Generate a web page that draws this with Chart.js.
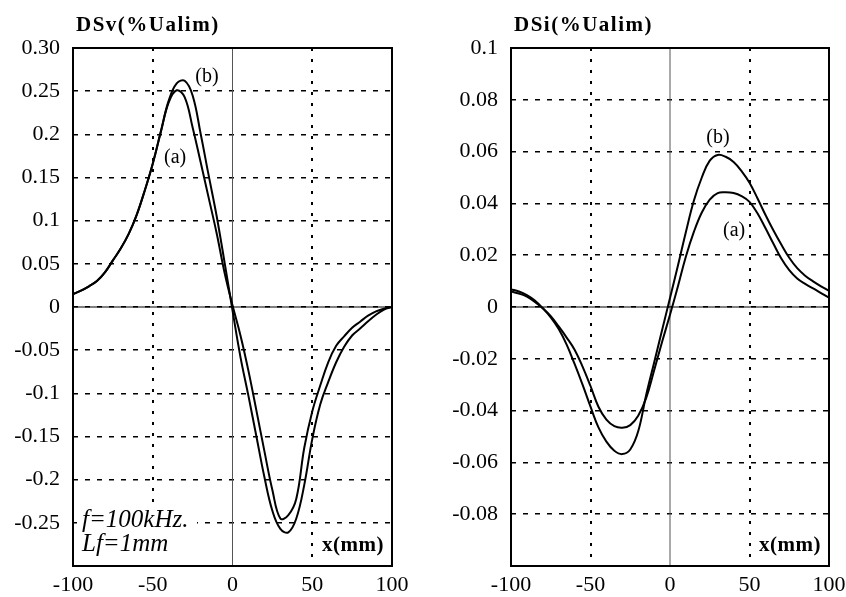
<!DOCTYPE html>
<html>
<head>
<meta charset="utf-8">
<script src="https://cdn.jsdelivr.net/npm/chart.js@4.4.1/dist/chart.umd.min.js"></script>
<style>
  html, body { margin: 0; padding: 0; background: #fff; }
  #wrap { position: relative; width: 846px; height: 597px; }
  .panel { position: absolute; top: 0; height: 597px; }
  #left { left: 0; width: 420px; }
  #right { left: 420px; width: 426px; }
</style>
</head>
<body>
<div id="wrap">
  <div class="panel" id="left"><canvas id="dsv"></canvas></div>
  <div class="panel" id="right"><canvas id="dsi"></canvas></div>
</div>
<script>
// x positions (mm), shared by every curve
const xValues = [-100, -95, -90, -85, -80, -75, -70, -65, -60, -55, -50, -45, -40, -35, -30, -25, -20, -15, -10, -5,
  0, 5, 10, 15, 20, 25, 30, 35, 40, 45, 50, 55, 60, 65, 70, 75, 80, 85, 90, 95, 100];

// DSv, curves (a) and (b)
const dsvA = [0.015, 0.019, 0.024, 0.030, 0.040, 0.054, 0.068, 0.085, 0.107, 0.135, 0.166, 0.202, 0.237, 0.251, 0.243, 0.208, 0.168, 0.127, 0.086, 0.040,
  0.002, -0.033, -0.074, -0.120, -0.167, -0.212, -0.245, -0.241, -0.222, -0.163, -0.121, -0.091, -0.064, -0.045, -0.034, -0.024, -0.017, -0.010, -0.005, -0.002, 0.000];
const dsvB = [0.015, 0.019, 0.024, 0.030, 0.040, 0.054, 0.068, 0.085, 0.107, 0.135, 0.166, 0.203, 0.239, 0.259, 0.262, 0.245, 0.201, 0.153, 0.106, 0.052,
  -0.004, -0.058, -0.103, -0.150, -0.197, -0.236, -0.257, -0.261, -0.245, -0.206, -0.153, -0.113, -0.087, -0.064, -0.046, -0.033, -0.025, -0.0165, -0.009, -0.003, 0.000];

// DSi, curves (a) and (b)
const dsiA = [0.0060, 0.0052, 0.0040, 0.0020, -0.0005, -0.0035, -0.0075, -0.0118, -0.0165, -0.0230, -0.0305, -0.0385, -0.0435, -0.0460, -0.0466, -0.0456, -0.0420, -0.0352, -0.0245, -0.0135,
  -0.0030, 0.0080, 0.0195, 0.0290, 0.0365, 0.0415, 0.0440, 0.0443, 0.0440, 0.0428, 0.0406, 0.0362, 0.0305, 0.0245, 0.0187, 0.0142, 0.0110, 0.0089, 0.0072, 0.0054, 0.0036];
const dsiB = [0.0068, 0.0060, 0.0046, 0.0025, -0.0005, -0.0040, -0.0085, -0.0145, -0.0220, -0.0300, -0.0385, -0.0465, -0.0520, -0.0555, -0.0568, -0.0550, -0.0480, -0.0340, -0.0215, -0.0090,
  0.0035, 0.0160, 0.0290, 0.0410, 0.0500, 0.0565, 0.0587, 0.0580, 0.0560, 0.0525, 0.0480, 0.0420, 0.0356, 0.0296, 0.0241, 0.0190, 0.0150, 0.0121, 0.0099, 0.0080, 0.0063];

// ticks
const xTicks = [-100, -50, 0, 50, 100];
const xTickLabels = ["-100", "-50", "0", "50", "100"];
const dsvTicks = [-0.3, -0.25, -0.2, -0.15, -0.1, -0.05, 0, 0.05, 0.1, 0.15, 0.2, 0.25, 0.3];
const dsvTickLabels = ["", "-0.25", "-0.2", "-0.15", "-0.1", "-0.05", "0", "0.05", "0.1", "0.15", "0.2", "0.25", "0.30"];
const dsiTicks = [-0.1, -0.08, -0.06, -0.04, -0.02, 0, 0.02, 0.04, 0.06, 0.08, 0.1];
const dsiTickLabels = ["", "-0.08", "-0.06", "-0.04", "-0.02", "0", "0.02", "0.04", "0.06", "0.08", "0.1"];

const serif = '"Liberation Serif", "Times New Roman", serif';

const toPoints = (ys) => xValues.map((x, i) => ({ x: x, y: ys[i] }));

const curve = (ys) => ({
  data: toPoints(ys),
  borderColor: "#000",
  borderWidth: 2,
  pointRadius: 0,
  fill: false,
  tension: 0.4,
});

const makePanel = (canvasId, seriesA, seriesB, yTicks, yLabels, panel) => {
  const overlay = {
    id: "overlay",
    beforeDatasetsDraw(chart) {
      const { ctx, chartArea, scales } = chart;
      const y0 = scales.y.getPixelForValue(0);
      const x0 = scales.x.getPixelForValue(0);
      ctx.save();
      ctx.lineWidth = 1;
      ctx.strokeStyle = "#000";
      ctx.beginPath();
      ctx.moveTo(chartArea.left, y0);
      ctx.lineTo(chartArea.right, y0);
      ctx.stroke();
      ctx.strokeStyle = "#555";
      ctx.beginPath();
      ctx.moveTo(x0, chartArea.top);
      ctx.lineTo(x0, chartArea.bottom);
      ctx.stroke();

      // notes sit on a white patch over the grid
      if (panel.notes) {
        ctx.font = "italic 25px " + serif;
        ctx.fillStyle = "#fff";
        ctx.fillRect(chartArea.left + 4, chartArea.bottom - 62, 120, 54);
        ctx.fillStyle = "#000";
        ctx.textAlign = "left";
        ctx.textBaseline = "alphabetic";
        panel.notes.forEach((n, i) => {
          ctx.fillText(n, chartArea.left + 9, chartArea.bottom - 39 + i * 24);
        });
      }
      ctx.restore();
    },
    afterDraw(chart) {
      const { ctx, chartArea, scales } = chart;
      ctx.save();
      // frame
      ctx.lineWidth = 2;
      ctx.strokeStyle = "#000";
      ctx.strokeRect(chartArea.left, chartArea.top, chartArea.right - chartArea.left, chartArea.bottom - chartArea.top);

      ctx.fillStyle = "#000";
      ctx.textBaseline = "alphabetic";
      ctx.font = "bold 21px " + serif;
      ctx.textAlign = "left";
      ctx.letterSpacing = "1.5px";
      ctx.fillText(panel.title, chartArea.left + 3, 31);
      ctx.letterSpacing = "0.5px";
      ctx.textAlign = "right";
      ctx.fillText("x(mm)", chartArea.right - 8, chartArea.bottom - 15);
      ctx.letterSpacing = "0px";

      // curve labels
      ctx.font = "20px " + serif;
      ctx.textAlign = "center";
      ctx.textBaseline = "middle";
      panel.marks.forEach((m) => {
        ctx.fillText(m.text, scales.x.getPixelForValue(m.x), scales.y.getPixelForValue(m.y));
      });
      ctx.restore();
    },
  };

  return new Chart(document.getElementById(canvasId).getContext("2d"), {
    type: "line",
    data: {
      datasets: [curve(seriesA), curve(seriesB)],
    },
    options: {
      responsive: true,
      maintainAspectRatio: false,
      animation: false,
      layout: {
        padding: { top: 48, right: panel.padRight, left: 0, bottom: 0 },
      },
      plugins: {
        legend: { display: false },
        tooltip: { enabled: false },
      },
      scales: {
        x: {
          type: "linear",
          min: -100,
          max: 100,
          afterBuildTicks: (axis) => {
            axis.ticks = xTicks.map((v) => ({ value: v }));
          },
          afterFit: (axis) => {
            axis.height = 31;
            axis.paddingLeft = 0;
            axis.paddingRight = 0;
          },
          ticks: {
            color: "#000",
            padding: 6,
            maxRotation: 0,
            font: { family: serif, size: 22 },
            callback: (value, index) => xTickLabels[index],
          },
          grid: {
            drawTicks: false,
            lineWidth: 2,
            color: (c) => (c.tick && c.tick.value === 0 ? "rgba(0,0,0,0)" : "#000"),
          },
          border: { display: false, dash: [3, 8] },
        },
        y: {
          type: "linear",
          min: yTicks[0],
          max: yTicks[yTicks.length - 1],
          afterBuildTicks: (axis) => {
            axis.ticks = yTicks.map((v) => ({ value: v }));
          },
          afterFit: (axis) => {
            axis.width = panel.axisWidth;
          },
          ticks: {
            color: "#000",
            padding: 13,
            font: { family: serif, size: 22 },
            callback: (value, index) => yLabels[index],
          },
          grid: {
            drawTicks: false,
            lineWidth: 1.5,
            color: "#000",
          },
          border: { display: false, dash: [5, 7] },
        },
      },
    },
    plugins: [overlay],
  });
};

makePanel("dsv", dsvA, dsvB, dsvTicks, dsvTickLabels, {
  title: "DSv(%Ualim)",
  axisWidth: 73,
  padRight: 28,
  marks: [
    { text: "(b)", x: -16, y: 0.267 },
    { text: "(a)", x: -36, y: 0.173 },
  ],
  notes: ["f=100kHz.", "Lf=1mm"],
});

makePanel("dsi", dsiA, dsiB, dsiTicks, dsiTickLabels, {
  title: "DSi(%Ualim)",
  axisWidth: 91,
  padRight: 17,
  marks: [
    { text: "(b)", x: 30.2, y: 0.0652 },
    { text: "(a)", x: 40.3, y: 0.0295 },
  ],
});
</script>
</body>
</html>
